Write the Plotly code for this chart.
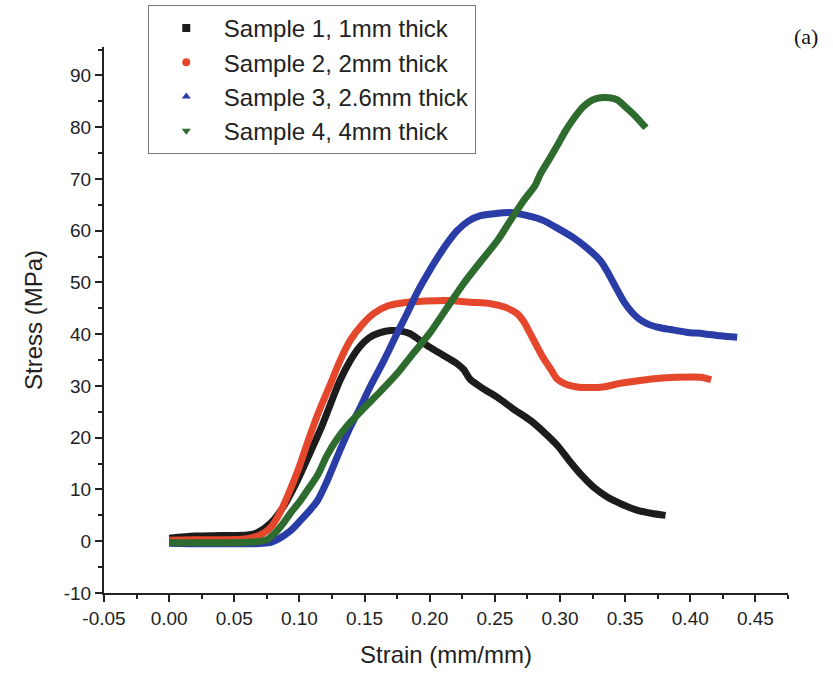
import plotly.graph_objects as go

# ---- data ----
s1_x = [0, 0.02, 0.04, 0.06, 0.068, 0.078, 0.088, 0.098, 0.108, 0.116, 0.124, 0.131, 0.139, 0.146,
        0.154, 0.162, 0.170, 0.178, 0.185, 0.192, 0.200, 0.210, 0.221, 0.226, 0.231, 0.241, 0.252,
        0.264, 0.277, 0.288, 0.298, 0.307, 0.316, 0.326, 0.336, 0.347, 0.359, 0.370, 0.381]
s1_y = [0.6, 1.0, 1.1, 1.2, 1.7, 3.5, 6.8, 11.5, 17.0, 21.5, 26.6, 31.0, 34.9, 37.5,
        39.4, 40.3, 40.7, 40.6, 40.1, 38.9, 37.5, 36.0, 34.3, 33.2, 31.3, 29.5, 27.8,
        25.6, 23.4, 21.0, 18.5, 15.6, 12.9, 10.4, 8.6, 7.2, 6.0, 5.4, 5.0]

s2_x = [0, 0.02, 0.04, 0.06, 0.072, 0.078, 0.085, 0.093, 0.100, 0.106, 0.114, 0.124, 0.131, 0.139,
        0.148, 0.157, 0.168, 0.180, 0.197, 0.214, 0.231, 0.247, 0.258, 0.267, 0.272, 0.277, 0.282,
        0.287, 0.293, 0.298, 0.305, 0.313, 0.321, 0.333, 0.346, 0.360, 0.372, 0.390, 0.408, 0.416]
s2_y = [0.2, 0.3, 0.3, 0.5, 1.5, 2.7, 5.5, 10.0, 14.5, 18.9, 24.5, 30.5, 34.8, 38.8,
        41.8, 44.0, 45.5, 46.1, 46.4, 46.5, 46.2, 45.9, 45.2, 44.0, 42.5, 40.2, 37.8,
        35.5, 33.2, 31.3, 30.3, 29.8, 29.7, 29.8, 30.5, 31.0, 31.4, 31.7, 31.7, 31.2]

s3_x = [0, 0.02, 0.04, 0.06, 0.072, 0.078, 0.085, 0.093, 0.100, 0.108, 0.114, 0.121, 0.131, 0.138,
        0.146, 0.154, 0.165, 0.175, 0.183, 0.190, 0.198, 0.206, 0.214, 0.221, 0.230, 0.239, 0.250,
        0.262, 0.275, 0.287, 0.298, 0.310, 0.320, 0.331, 0.337, 0.343, 0.349, 0.355, 0.361, 0.368,
        0.376, 0.385, 0.397, 0.410, 0.423, 0.436]
s3_y = [-0.4, -0.5, -0.5, -0.5, -0.4, -0.2, 0.6, 2.0, 3.8, 6.0, 7.9, 11.5, 17.5, 21.5,
        25.5, 29.7, 35.0, 40.2, 44.2, 47.9, 51.5, 54.8, 57.8, 60.0, 61.9, 62.9, 63.3,
        63.5, 62.9, 62.0, 60.5, 58.7, 56.8, 54.2, 51.8, 49.0, 46.3, 44.3, 42.9, 41.9,
        41.3, 40.9, 40.4, 40.1, 39.7, 39.4]

s4_x = [0, 0.02, 0.04, 0.06, 0.070, 0.075, 0.082, 0.088, 0.093, 0.100, 0.106, 0.114, 0.121, 0.129,
        0.137, 0.149, 0.162, 0.175, 0.187, 0.200, 0.213, 0.226, 0.239, 0.252, 0.262, 0.272, 0.281,
        0.285, 0.291, 0.298, 0.304, 0.310, 0.318, 0.325, 0.331, 0.338, 0.344, 0.350, 0.356, 0.362, 0.366]
s4_y = [-0.3, -0.3, -0.3, -0.2, 0.0, 0.3, 1.8, 3.6, 5.4, 7.6, 9.8, 12.8, 16.5, 19.8,
        22.4, 25.6, 28.9, 32.4, 36.2, 40.2, 45.0, 49.8, 54.0, 58.1, 62.0, 65.8, 68.8,
        71.0, 73.5, 76.5, 79.2, 81.5, 84.0, 85.3, 85.7, 85.7, 85.3, 84.0, 82.6, 81.0, 79.9]

names = ["Sample 1, 1mm thick", "Sample 2, 2mm thick", "Sample 3, 2.6mm thick", "Sample 4, 4mm thick"]
colors = ["#1c1c1c", "#e5472d", "#2a3ca6", "#2e6b2f"]
symbols = ["square", "circle", "triangle-up", "triangle-down"]

x_ticks = [-0.05, 0.00, 0.05, 0.10, 0.15, 0.20, 0.25, 0.30, 0.35, 0.40, 0.45]
y_ticks = [-10, 0, 10, 20, 30, 40, 50, 60, 70, 80, 90]

series = [(s1_x, s1_y), (s2_x, s2_y), (s3_x, s3_y), (s4_x, s4_y)]

fig = go.Figure()
for (xs, ys), c in zip(series, colors):
    fig.add_trace(go.Scatter(x=xs, y=ys, mode="lines",
                             line=dict(color=c, width=7, shape="spline", smoothing=0.8),
                             showlegend=False, hoverinfo="skip"))
for n, c, s in zip(names, colors, symbols):
    fig.add_trace(go.Scatter(x=[None], y=[None], mode="markers", name=n,
                             marker=dict(color=c, symbol=s, size=8)))

font_family = "Liberation Sans, Arial, sans-serif"
fig.update_layout(
    width=833, height=681,
    margin=dict(l=104, r=45, t=47, b=88, autoexpand=False),
    paper_bgcolor="white", plot_bgcolor="white",
    font=dict(family=font_family, color="#222222", size=19),
    legend=dict(x=0.064, y=1.077, xanchor="left", yanchor="top",
                bordercolor="#777777", borderwidth=1, bgcolor="white",
                font=dict(size=24, family=font_family, color="#222222"),
                itemwidth=65, tracegroupgap=0),
    annotations=[dict(text="(a)", x=1.026, y=1.02, xref="paper", yref="paper", showarrow=False,
                      xanchor="center", yanchor="middle",
                      font=dict(family="Liberation Serif, Times New Roman, serif", size=22, color="#111111"))],
)
fig.update_xaxes(range=[-0.05, 0.475], tickvals=x_ticks, ticktext=[f"{v:.2f}" for v in x_ticks],
                 showgrid=False, zeroline=False, showline=True, linecolor="#222222", linewidth=2,
                 ticks="outside", ticklen=7, tickwidth=2, tickcolor="#222222",
                 minor=dict(dtick=0.025, tick0=-0.05, ticks="outside", ticklen=4, tickwidth=1.5, tickcolor="#222222"),
                 title=dict(text="Strain (mm/mm)", font=dict(size=24), standoff=18),
                 tickfont=dict(size=19))
fig.update_yaxes(range=[-10, 95.5], tickvals=y_ticks, ticktext=[str(v) for v in y_ticks],
                 showgrid=False, zeroline=False, showline=True,
                 linecolor="#222222", linewidth=2,
                 ticks="outside", ticklen=7, tickwidth=2, tickcolor="#222222",
                 minor=dict(dtick=5, tick0=-10, ticks="outside", ticklen=4, tickwidth=1.5, tickcolor="#222222"),
                 title=dict(text="Stress (MPa)", font=dict(size=24), standoff=14),
                 tickfont=dict(size=19))

fig.write_html("out.html")
